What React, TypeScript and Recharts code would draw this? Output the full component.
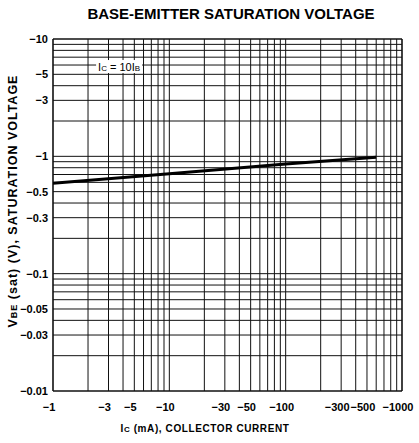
import { LineChart, Line, XAxis, YAxis, ReferenceLine, ReferenceDot } from 'recharts';

// Ic (mA) and VBE(sat) (V), PNP part so both are negative
const icValues = [-1, -10, -100, -600];
const vbeValues = [-0.59, -0.71, -0.86, -0.98];

const xTicks = [-1, -3, -5, -10, -30, -50, -100, -300, -500, -1000];
const yTicks = [-0.01, -0.03, -0.05, -0.1, -0.3, -0.5, -1, -3, -5, -10];

// log paper: lines at 1..9 of every decade
const decadesX = [1, 10, 100];
const decadesY = [0.01, 0.1, 1];
const steps = [1, 2, 3, 4, 5, 6, 7, 8, 9];
const gridX = decadesX.flatMap((d) => steps.map((s) => s * d)).concat([1000]);
const gridY = decadesY.flatMap((d) => steps.map((s) => s * d)).concat([10]);

// the chart is drawn on magnitudes, labels put the minus sign back
const data = icValues.map((ic, i) => ({ ic: Math.abs(ic), vbe: Math.abs(vbeValues[i]) }));

const fmt = (v: number) => '\u2212' + v;
const font = '"Liberation Sans", Arial, sans-serif';

const Note = (props: any) => {
    const { cx, cy } = props;
    return (
        <g>
            <rect x={cx - 23} y={cy - 5} width={46} height={13} fill="#fff" />
            <text x={cx} y={cy + 6} textAnchor="middle" fontSize={11} fontFamily={font} fill="#000">
                I<tspan fontSize={8}>C</tspan> = 10I<tspan fontSize={8}>B</tspan>
            </text>
        </g>
    );
};

export default function App() {
    const tickStyle = { fontSize: 11, fontWeight: 'bold', fill: '#000', fontFamily: font };
    return (
        <div style={{ position: 'absolute', left: 0, top: 0, width: 419, height: 443, background: '#fff', fontFamily: font }}>
            <div style={{ position: 'absolute', left: 0, width: 462, top: 5, textAlign: 'center', fontSize: 15, fontWeight: 'bold' }}>
                BASE-EMITTER SATURATION VOLTAGE
            </div>
            <LineChart width={419} height={443} data={data} margin={{ top: 39, right: 17, bottom: 0, left: 0 }}>
                <XAxis
                    dataKey="ic"
                    type="number"
                    scale="log"
                    domain={[1, 1000]}
                    ticks={xTicks.map(Math.abs)}
                    tickFormatter={fmt}
                    axisLine={false}
                    tickLine={false}
                    tickSize={6}
                    tickMargin={6}
                    height={52}
                    tick={{ ...tickStyle, dx: -4 }}
                    interval={0}
                    allowDataOverflow
                />
                <YAxis
                    dataKey="vbe"
                    type="number"
                    scale="log"
                    domain={[0.01, 10]}
                    ticks={yTicks.map(Math.abs)}
                    tickFormatter={fmt}
                    axisLine={false}
                    tickLine={false}
                    tickSize={4}
                    tickMargin={1}
                    width={53}
                    tick={tickStyle}
                    interval={0}
                    allowDataOverflow
                />
                {gridX.map((v) => (
                    <ReferenceLine key={'x' + v} x={v} stroke="#111" strokeWidth={v === 1 || v === 1000 ? 1.6 : 1} />
                ))}
                {gridY.map((v) => (
                    <ReferenceLine key={'y' + v} y={v} stroke="#111" strokeWidth={v === 0.01 || v === 10 ? 1.6 : 1} />
                ))}
                <ReferenceDot x={3.7} y={6} r={0} shape={Note} />
                <Line dataKey="vbe" stroke="#000" strokeWidth={3} dot={false} isAnimationActive={false} type="linear" />
            </LineChart>
            <div
                style={{
                    position: 'absolute',
                    left: 13,
                    top: 201,
                    transform: 'translate(-50%, -50%) rotate(-90deg)',
                    whiteSpace: 'nowrap',
                    fontSize: 12.5,
                    letterSpacing: 1,
                    fontWeight: 'bold',
                }}
            >
                V<span style={{ fontSize: 9 }}>BE</span> (sat) (V), SATURATION VOLTAGE
            </div>
            <div
                style={{
                    position: 'absolute',
                    left: 0,
                    width: 410,
                    top: 423,
                    textAlign: 'center',
                    fontSize: 10,
                    letterSpacing: 0.6,
                    fontWeight: 'bold',
                }}
            >
                I<span style={{ fontSize: 8 }}>C</span> (mA), COLLECTOR CURRENT
            </div>
        </div>
    );
}
